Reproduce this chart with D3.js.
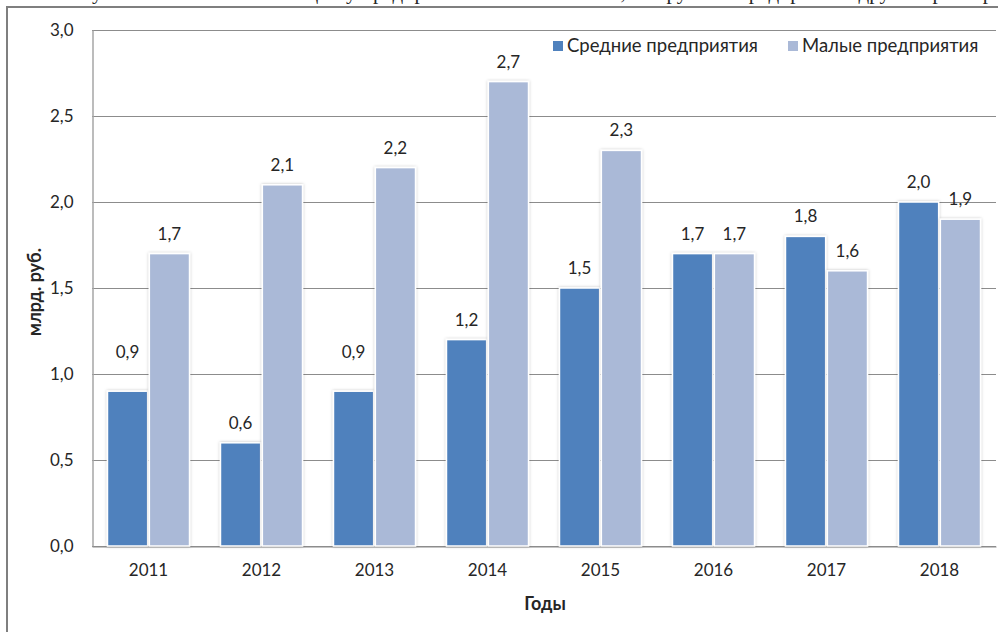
<!DOCTYPE html>
<html>
<head>
<meta charset="utf-8">
<script src="https://cdn.jsdelivr.net/npm/d3@7/dist/d3.min.js"></script>
<style>
    body { margin: 0; background: #fff; }
    text { font-family: Lato, "Open Sans", sans-serif; fill: #262626; }
</style>
</head>
<body>
<div id="chart-area"></div>
<script>
// data
const years = ["2011", "2012", "2013", "2014", "2015", "2016", "2017", "2018"];
const seriesNames = ["Средние предприятия", "Малые предприятия"];
const medium = [0.9, 0.6, 0.9, 1.2, 1.5, 1.7, 1.8, 2.0];
const small = [1.7, 2.1, 2.2, 2.7, 2.3, 1.7, 1.6, 1.9];
const yTicks = [0, 0.5, 1.0, 1.5, 2.0, 2.5, 3.0];
const yTitle = "млрд. руб.";
const xTitle = "Годы";

;(function () {
    'use strict';

    const W = 998, H = 632;
    const MARGIN = {LEFT: 92, RIGHT: 2, TOP: 30, BOTTOM: 86};
    const WIDTH = W - MARGIN.LEFT - MARGIN.RIGHT;
    const HEIGHT = H - MARGIN.TOP - MARGIN.BOTTOM;
    const colors = ["#4f81bd", "#aab9d7"];
    const fmt = v => d3.format(".1f")(v).replace(".", ",");

    const rows = years.map((y, i) => ({year: y, values: [medium[i], small[i]]}));

    const svg = d3.select("#chart-area").append("svg")
        .attr("width", W).attr("height", H);

    // shadow for bars
    svg.append("defs").append("filter")
        .attr("id", "shadow").attr("x", "-20%").attr("y", "-5%")
        .attr("width", "140%").attr("height", "110%")
        .append("feDropShadow")
        .attr("dx", 0).attr("dy", 0).attr("stdDeviation", 1.6)
        .attr("flood-color", "#000").attr("flood-opacity", 0.25);

    // line of the page text above the chart, cut by the top edge
    svg.append("text")
        .attr("x", 60).attr("y", -1)
        .style("font-family", "'Liberation Serif', serif")
        .style("font-size", "21px")
        .attr("fill", "#000")
        .text("Рисунок 3 – Объем инвестиций у предприятий малого бизнеса, по группам предприятий другого размера [");

    // outer frame of the chart object
    svg.append("rect")
        .attr("x", 7).attr("y", 7)
        .attr("width", W + 20).attr("height", H + 20)
        .attr("fill", "#fff")
        .attr("stroke", "#7f7f7f").attr("stroke-width", 2);

    const graph = svg.append("g")
        .attr("transform", `translate(${MARGIN.LEFT}, ${MARGIN.TOP})`);

    const x0 = d3.scaleBand().domain(years).range([0, WIDTH])
        .paddingInner(0.274).paddingOuter(0.137);
    const x1 = d3.scaleBand().domain([0, 1]).range([0, x0.bandwidth()])
        .paddingInner(0.04);
    const y = d3.scaleLinear().domain([0, 3]).range([HEIGHT, 0]);

    // gridlines
    graph.append("g")
        .selectAll("line").data(yTicks).join("line")
        .attr("x1", 0).attr("x2", WIDTH)
        .attr("y1", d => Math.round(y(d)) + 0.5).attr("y2", d => Math.round(y(d)) + 0.5)
        .attr("stroke", "#8c8c8c").attr("stroke-width", 1);

    // y axis
    const yAxis = graph.append("g")
        .attr("transform", "translate(0.5,0)")
        .call(d3.axisLeft(y).tickValues(yTicks).tickSize(0).tickPadding(19).tickFormat(fmt));
    yAxis.select(".domain").attr("stroke", "#a6a6a6").attr("stroke-width", 1.5);
    yAxis.selectAll("text").style("font-size", "17px").style("font-family", "Lato").attr("fill", "#262626");

    // x axis
    const xAxis = graph.append("g")
        .attr("transform", `translate(0, ${HEIGHT + 0.5})`)
        .call(d3.axisBottom(x0).tickSize(0).tickPadding(17));
    xAxis.select(".domain").attr("stroke", "#8c8c8c");
    xAxis.selectAll("text").style("font-size", "17px").style("font-family", "Lato").attr("fill", "#262626");

    // bars
    const groups = graph.append("g")
        .selectAll("g").data(rows).join("g")
        .attr("transform", d => `translate(${x0(d.year)},0)`);

    groups.selectAll("rect")
        .data(d => d.values.map((v, k) => ({k, v, year: d.year})))
        .join("rect")
        .attr("x", d => x1(d.k))
        .attr("y", d => y(d.v))
        .attr("width", x1.bandwidth())
        .attr("height", d => y(0) - y(d.v))
        .attr("fill", d => colors[d.k])
        .attr("stroke", "#fff").attr("stroke-width", 1.5)
        .attr("filter", "url(#shadow)");

    // data labels (two 0,9 labels were lifted by hand in the original)
    const lifted = {"2011-0": 19, "2013-0": 19};
    groups.selectAll("text.val")
        .data(d => d.values.map((v, k) => ({k, v, year: d.year})))
        .join("text")
        .attr("class", "val")
        .attr("x", d => x1(d.k) + x1.bandwidth() / 2)
        .attr("y", d => y(d.v) - 20 - (lifted[d.year + "-" + d.k] || 0))
        .attr("dy", "0.35em")
        .attr("text-anchor", "middle")
        .style("font-size", "17px")
        .text(d => fmt(d.v));

    // axis titles
    svg.append("text")
        .attr("transform", `translate(35, 292) rotate(-90)`)
        .attr("text-anchor", "middle").attr("dy", "0.35em")
        .style("font-size", "18px").style("font-weight", "bold")
        .attr("fill", "#000")
        .text(yTitle);

    svg.append("text")
        .attr("x", 545).attr("y", 604)
        .attr("text-anchor", "middle").attr("dy", "0.35em")
        .style("font-size", "18px").style("font-weight", "bold")
        .attr("fill", "#000")
        .text(xTitle);

    // legend
    const legendX = [553, 788];
    const legend = svg.append("g").selectAll("g").data(seriesNames).join("g")
        .attr("transform", (d, i) => `translate(${legendX[i]}, 46)`);
    legend.append("rect")
        .attr("x", 0).attr("y", -5).attr("width", 10).attr("height", 10)
        .attr("fill", (d, i) => colors[i]);
    legend.append("text")
        .attr("x", 14).attr("dy", "0.35em")
        .style("font-size", "18.5px")
        .text(d => d);
})();
</script>
</body>
</html>
